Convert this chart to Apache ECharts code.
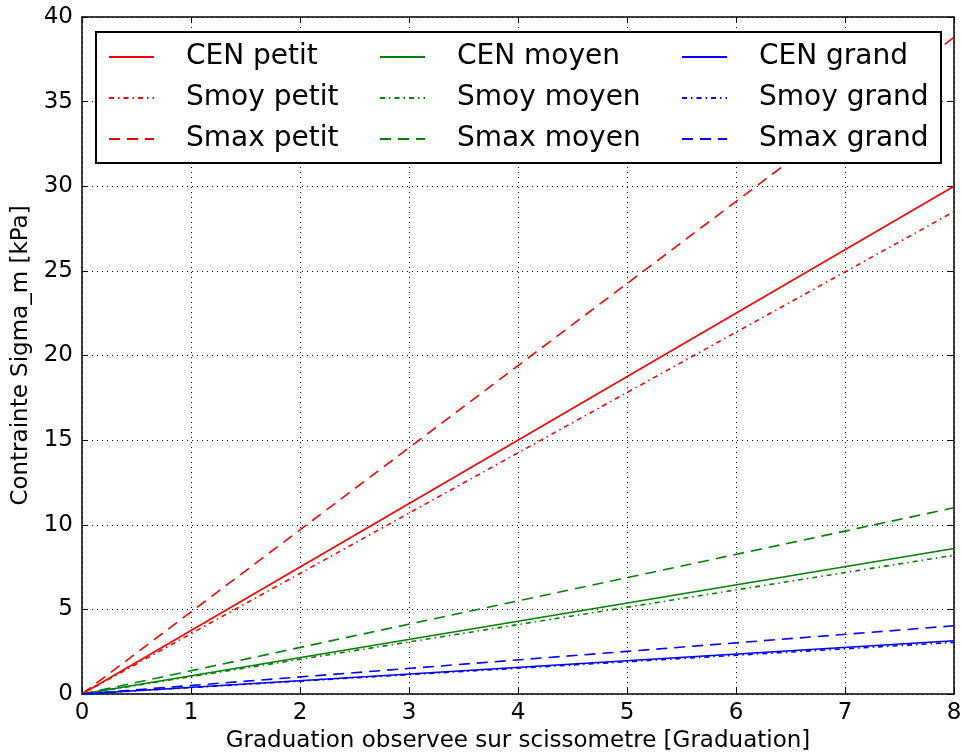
<!DOCTYPE html>
<html>
<head>
<meta charset="utf-8">
<script src="https://cdn.jsdelivr.net/npm/echarts@6/dist/echarts.min.js"></script>
<style>
  html, body { margin: 0; padding: 0; background: #fff; }
  #chart { width: 962px; height: 752px; }
</style>
</head>
<body>
<div id="chart"></div>
<script>
// Stress vs. shear vane graduation, three sizes (petit / moyen / grand)
const xTicks = [0, 1, 2, 3, 4, 5, 6, 7, 8];
const yTicks = [0, 5, 10, 15, 20, 25, 30, 35, 40];

// Each curve is a straight line from the origin: [graduation, kPa]
const cenPetit   = [[0, 0], [8, 30.0]];
const smoyPetit  = [[0, 0], [8, 28.5]];
const smaxPetit  = [[0, 0], [8, 38.8]];
const cenMoyen   = [[0, 0], [8, 8.6]];
const smoyMoyen  = [[0, 0], [8, 8.2]];
const smaxMoyen  = [[0, 0], [8, 11.0]];
const cenGrand   = [[0, 0], [8, 3.15]];
const smoyGrand  = [[0, 0], [8, 3.05]];
const smaxGrand  = [[0, 0], [8, 4.03]];

const RED = '#ff0000', GREEN = '#008000', BLUE = '#0000ff';
const SOLID = 'solid', DASHDOT = [5, 4, 1.5, 4], DASHED = [11, 7];
const FONT = 'DejaVu Sans';

function line(name, data, color, type) {
  return {
    name, type: 'line', data, symbol: 'none', showSymbol: false,
    xAxisIndex: 0, yAxisIndex: 0,
    lineStyle: { color, width: 1.6, type },
    itemStyle: { color },
    z: 2, silent: true
  };
}

const series = [
  line('CEN petit',  cenPetit,  RED,   SOLID),
  line('Smoy petit', smoyPetit, RED,   DASHDOT),
  line('Smax petit', smaxPetit, RED,   DASHED),
  line('CEN moyen',  cenMoyen,  GREEN, SOLID),
  line('Smoy moyen', smoyMoyen, GREEN, DASHDOT),
  line('Smax moyen', smaxMoyen, GREEN, DASHED),
  line('CEN grand',  cenGrand,  BLUE,  SOLID),
  line('Smoy grand', smoyGrand, BLUE,  DASHDOT),
  line('Smax grand', smaxGrand, BLUE,  DASHED)
];

function legendCol(left, names) {
  return {
    orient: 'vertical', left, top: 37, z: 20,
    data: names, itemWidth: 45, itemHeight: 14, itemGap: 11,
    selectedMode: false,
    itemStyle: { opacity: 0 },
    textStyle: { fontFamily: FONT, fontSize: 28, color: '#000', lineHeight: 30, padding: [0, 0, 0, 27] }
  };
}

const baseAxis = {
  type: 'value', min: 0,
  axisLine: { show: true, onZero: false, lineStyle: { color: '#000', width: 1.5 } },
  axisTick: { show: true, inside: true, length: 6, lineStyle: { color: '#000', width: 1 } }
};

const option = {
  animation: false,
  backgroundColor: '#fff',
  grid: { left: 82, right: 8, top: 17, bottom: 58, containLabel: false, outerBoundsMode: 'none' },
  xAxis: [
    Object.assign({}, baseAxis, {
      max: 8, interval: 1, position: 'bottom',
      name: 'Graduation observee sur scissometre [Graduation]',
      nameLocation: 'middle', nameGap: 31,
      nameTextStyle: { fontFamily: FONT, fontSize: 23, color: '#000' },
      axisLabel: { fontFamily: FONT, fontSize: 23, color: '#000', margin: 8 },
      splitLine: { show: true, lineStyle: { color: '#000', width: 1, type: [1, 4] } }
    }),
    Object.assign({}, baseAxis, {
      max: 8, interval: 1, position: 'top',
      axisLabel: { show: false }, splitLine: { show: false }
    })
  ],
  yAxis: [
    Object.assign({}, baseAxis, {
      max: 40, interval: 5, position: 'left',
      name: 'Contrainte Sigma_m [kPa]',
      nameLocation: 'middle', nameGap: 47, nameRotate: 90,
      nameTextStyle: { fontFamily: FONT, fontSize: 23, color: '#000' },
      axisLabel: { fontFamily: FONT, fontSize: 23, color: '#000', margin: 9 },
      splitLine: { show: true, lineStyle: { color: '#000', width: 1, type: [1, 4] } }
    }),
    Object.assign({}, baseAxis, {
      max: 40, interval: 5, position: 'right',
      axisLabel: { show: false }, splitLine: { show: false }
    })
  ],
  graphic: [{
    type: 'rect', z: 15,
    shape: { x: 96, y: 32, width: 845, height: 131 },
    style: { fill: '#fff', stroke: '#000', lineWidth: 2 }
  }],
  legend: [
    legendCol(103, ['CEN petit', 'Smoy petit', 'Smax petit']),
    legendCol(374, ['CEN moyen', 'Smoy moyen', 'Smax moyen']),
    legendCol(676, ['CEN grand', 'Smoy grand', 'Smax grand'])
  ],
  series
};

const chart = echarts.init(document.getElementById('chart'), null, { renderer: 'canvas' });
chart.setOption(option);
</script>
</body>
</html>
